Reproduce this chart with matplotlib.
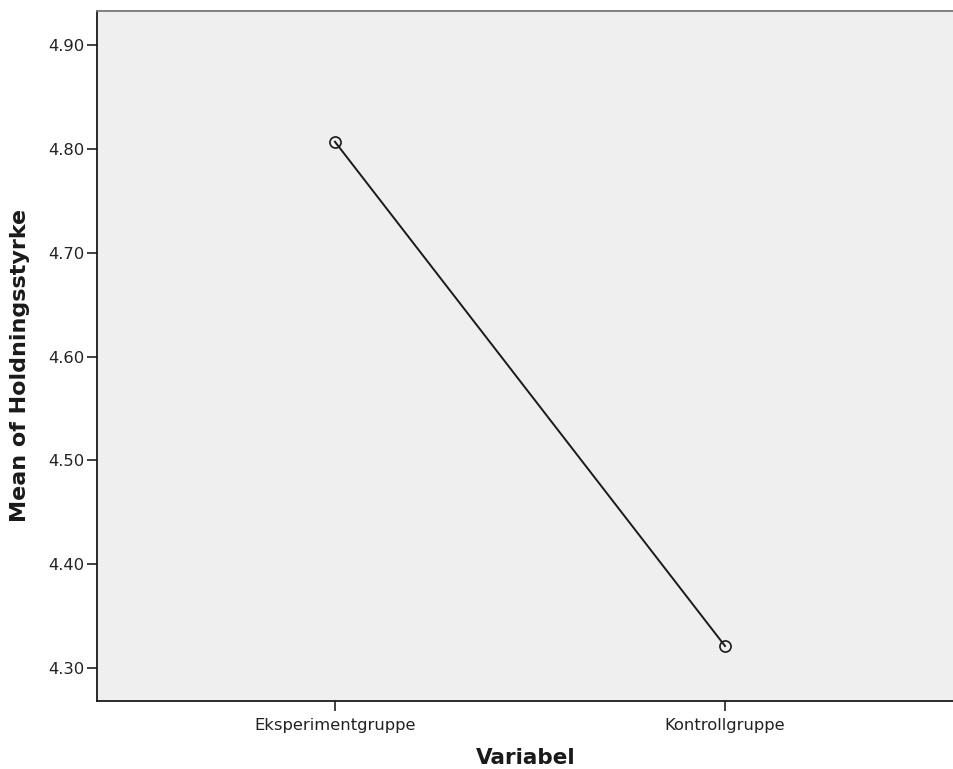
import matplotlib.pyplot as plt

# data
groups = ['Eksperimentgruppe', 'Kontrollgruppe']
means = [4.807, 4.321]
yticks = [4.30, 4.40, 4.50, 4.60, 4.70, 4.80, 4.90]

W, H = 954, 769
fig = plt.figure(figsize=(W / 100, H / 100), dpi=100)
ax = fig.add_axes([97 / W, 1 - 701 / H, (954 - 97) / W, (701 - 11) / H])
ax.set_facecolor('#efefef')

xpos = list(range(len(groups)))
ax.plot(xpos, means, '-', color='#1a1a1a', linewidth=1.4, zorder=2)
ax.plot(xpos, means, 'o', markerfacecolor='none', markeredgecolor='#1a1a1a',
        markersize=8, markeredgewidth=1.2, zorder=3)

ax.set_xlim(-0.61, 1.587)
ax.set_ylim(4.268, 4.933)
ax.set_xticks(xpos)
ax.set_xticklabels(groups)
ax.set_yticks(yticks)
ax.set_yticklabels(['%.2f' % v for v in yticks])
ax.tick_params(axis='both', direction='out', width=1.2,
               labelsize=11.8, colors='#222222')
ax.tick_params(axis='y', length=7.5, pad=1.5)
ax.tick_params(axis='x', length=7, pad=5)

for side in ['left', 'bottom']:
    ax.spines[side].set_linewidth(1.3)
    ax.spines[side].set_color('#1a1a1a')
ax.spines['top'].set_color('#777777')
ax.spines['top'].set_linewidth(1.3)
ax.spines['right'].set_visible(False)

ax.set_xlabel('Variabel', fontsize=15.5, fontweight='bold', labelpad=11, color='#1a1a1a')
ax.set_ylabel('Mean of Holdningsstyrke', fontsize=16, fontweight='bold', color='#1a1a1a')
ax.yaxis.set_label_coords(-0.078, 0.487)

plt.savefig('out.png', dpi=100)
plt.close()
